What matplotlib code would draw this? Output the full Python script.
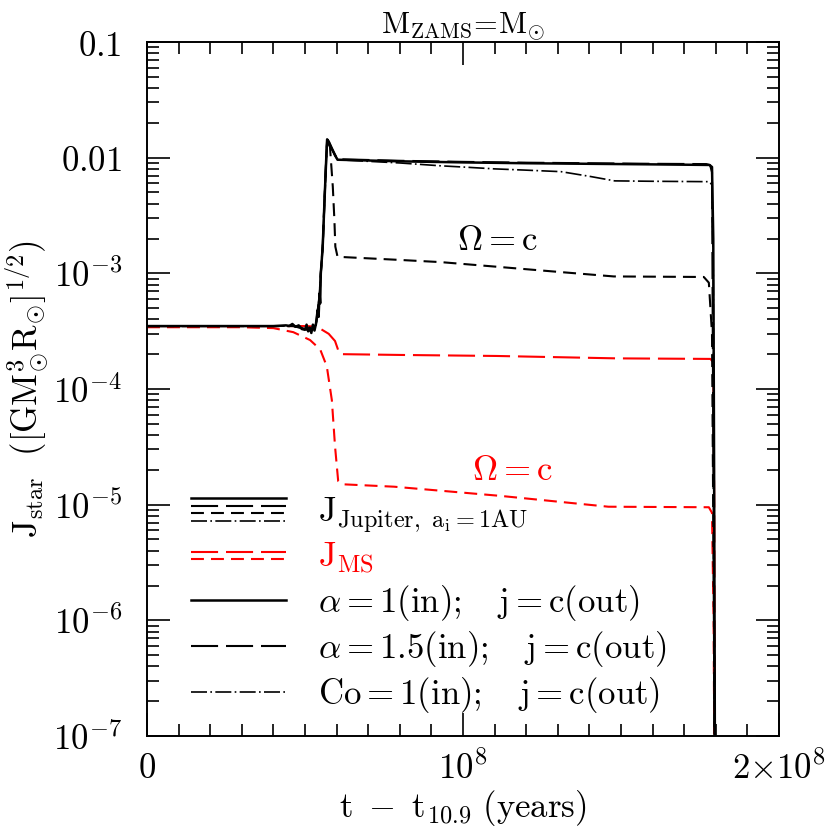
import matplotlib
matplotlib.use('Agg')
import matplotlib.pyplot as plt
from matplotlib.lines import Line2D
from matplotlib.legend_handler import HandlerBase
from matplotlib.ticker import MultipleLocator, NullFormatter

plt.rcParams['mathtext.fontset'] = 'cm'
plt.rcParams['font.family'] = 'serif'
plt.rcParams['font.serif'] = ['DejaVu Serif']

# data set (time in units of 1e7 years)
t_a1 = [0, 1, 2, 3, 4, 4.4, 4.5, 4.6, 4.7, 4.8, 4.9, 5.0, 5.05, 5.1, 5.15,
        5.2, 5.25, 5.3, 5.35, 5.4, 5.43, 5.46, 5.48, 5.5, 5.56, 5.61, 5.67,
        5.70, 5.75, 5.85, 5.95, 6.03, 8, 10, 12, 14, 16, 17.8, 17.88, 17.92,
        17.95, 17.98]
j_a1 = [3.5e-4, 3.5e-4, 3.5e-4, 3.5e-4, 3.5e-4, 3.55e-4, 3.5e-4, 3.65e-4,
        3.45e-4, 3.55e-4, 3.3e-4, 3.25e-4, 3.6e-4, 3.15e-4, 3.4e-4, 3.05e-4,
        3.6e-4, 3.2e-4, 3.7e-4, 4.8e-4, 4.2e-4, 6.7e-4, 5.5e-4, 1.0e-3,
        1.7e-3, 3.8e-3, 9.5e-3, 1.44e-2, 1.38e-2, 1.2e-2, 1.05e-2, 9.6e-3,
        9.3e-3, 9.1e-3, 8.95e-3, 8.85e-3, 8.75e-3, 8.65e-3, 8.3e-3, 2e-3,
        1e-5, 1e-8]

t_a15 = [0, 1, 2, 3, 4, 4.4, 4.6, 4.8, 5.0, 5.2, 5.35, 5.46, 5.5, 5.56,
         5.61, 5.67, 5.70, 5.75, 5.85, 5.95, 6.03, 8, 10, 12, 14, 16, 17.7,
         17.82, 17.88, 17.93, 17.97]
j_a15 = [3.5e-4, 3.5e-4, 3.5e-4, 3.5e-4, 3.5e-4, 3.5e-4, 3.55e-4, 3.4e-4,
         3.3e-4, 3.2e-4, 3.6e-4, 6.5e-4, 1.0e-3, 1.7e-3, 3.8e-3, 9.5e-3,
         1.43e-2, 1.37e-2, 1.2e-2, 1.06e-2, 9.7e-3, 9.4e-3, 9.2e-3, 9.05e-3,
         8.95e-3, 8.85e-3, 8.8e-3, 8.6e-3, 7.5e-3, 1e-5, 1e-8]

t_co = [0, 1, 2, 3, 4, 4.4, 4.6, 4.8, 5.0, 5.2, 5.35, 5.46, 5.5, 5.56,
        5.61, 5.67, 5.70, 5.75, 5.85, 5.95, 6.03, 7, 8, 9.3, 10, 11, 12,
        13.1, 14, 14.8, 16, 17.8, 17.88, 17.92, 17.95, 17.98]
j_co = [3.5e-4, 3.5e-4, 3.5e-4, 3.5e-4, 3.5e-4, 3.5e-4, 3.5e-4, 3.45e-4,
        3.3e-4, 3.2e-4, 3.6e-4, 6.5e-4, 1.0e-3, 1.7e-3, 3.8e-3, 9.5e-3,
        1.42e-2, 1.36e-2, 1.18e-2, 1.04e-2, 9.6e-3, 9.3e-3, 9.0e-3, 8.5e-3,
        8.3e-3, 8.0e-3, 7.8e-3, 7.57e-3, 6.9e-3, 6.3e-3, 6.25e-3, 6.2e-3,
        5.8e-3, 1e-3, 1e-6, 1e-8]

t_om = [0, 1, 2, 3, 4, 4.4, 4.6, 4.8, 5.0, 5.2, 5.35, 5.46, 5.5, 5.56,
        5.61, 5.67, 5.70, 5.75, 5.79, 5.88, 5.93, 5.96, 6.03, 7.9, 9.3,
        11.07, 13, 14.77, 17.62, 17.78, 17.88, 17.94, 17.97]
j_om = [3.5e-4, 3.5e-4, 3.5e-4, 3.5e-4, 3.5e-4, 3.5e-4, 3.5e-4, 3.45e-4,
        3.3e-4, 3.2e-4, 3.6e-4, 6.5e-4, 1.0e-3, 1.7e-3, 3.8e-3, 9.5e-3,
        1.4e-2, 1.3e-2, 1.24e-2, 5.6e-3, 2.9e-3, 1.7e-3, 1.39e-3, 1.31e-3,
        1.25e-3, 1.14e-3, 1.03e-3, 9.4e-4, 9.3e-4, 8.3e-4, 3e-4, 1e-6, 1e-8]

t_ms = [0, 1, 2, 3, 4, 5, 5.2, 5.5, 5.75, 5.95, 6.03, 6.08, 6.2, 8, 11.07,
        14.87, 17.83, 17.92, 17.95, 17.98]
j_ms = [3.5e-4, 3.5e-4, 3.5e-4, 3.5e-4, 3.5e-4, 3.5e-4, 3.48e-4, 3.3e-4,
        3.0e-4, 2.6e-4, 2.25e-4, 2.03e-4, 2.0e-4, 1.97e-4, 1.93e-4, 1.84e-4,
        1.82e-4, 1.7e-4, 1e-5, 1e-8]

t_ms_om = [0, 1, 2, 3, 4.0, 4.63, 5.16, 5.48, 5.69, 5.85, 5.95, 6.05, 6.2,
           7.82, 11.2, 14.6, 17.78, 17.88, 17.93, 17.97]
j_ms_om = [3.42e-4, 3.42e-4, 3.42e-4, 3.42e-4, 3.36e-4, 3.1e-4, 2.65e-4,
           2.2e-4, 1.57e-4, 8e-5, 3.2e-5, 1.6e-5, 1.5e-5, 1.43e-5, 1.19e-5,
           9.6e-6, 9.5e-6, 8.5e-6, 1e-6, 1e-8]

long_dash = (0, (13, 3.8))
short_dash = (0, (6.2, 3.4))
dash_dot = (0, (9.6, 2, 1, 2))


def yrs(t):
    return [v * 1e7 for v in t]


class StackHandler(HandlerBase):
    # draws several line styles stacked in one legend row
    def create_artists(self, legend, orig_handle, xdescent, ydescent,
                       width, height, fontsize, trans):
        n = len(orig_handle)
        gap = 5.4
        yc = (height - ydescent) / 2
        out = []
        for i, src in enumerate(orig_handle):
            y = yc + ((n - 1) / 2 - i) * gap
            ln = Line2D([-xdescent, -xdescent + width], [y, y])
            self.update_prop(ln, src, legend)
            ln.set_transform(trans)
            out.append(ln)
        return out


fig = plt.figure(figsize=(8.3, 8.33), dpi=100)
ax = fig.add_axes([147 / 830, 1 - 736 / 833, 632 / 830, 694 / 833])

l_ms, = ax.plot(yrs(t_ms), j_ms, color='red', lw=1.5, ls=long_dash)
l_ms_om, = ax.plot(yrs(t_ms_om), j_ms_om, color='red', lw=1.5, ls=short_dash)
l_om, = ax.plot(yrs(t_om), j_om, color='black', lw=1.5, ls=short_dash)
l_co, = ax.plot(yrs(t_co), j_co, color='black', lw=1.2, ls=dash_dot)
l_a15, = ax.plot(yrs(t_a15), j_a15, color='black', lw=1.5, ls=long_dash)
l_a1, = ax.plot(yrs(t_a1), j_a1, color='black', lw=1.8)

ax.text(1.108e8, 1.95e-3, r'$\Omega\mathrm{=c}$', fontsize=25,
        ha='center', va='center')
ax.text(1.156e8, 2.0e-5, r'$\Omega\mathrm{=c}$', fontsize=25,
        ha='center', va='center', color='red')

ax.set_yscale('log')
ax.set_xlim(0, 2e8)
ax.set_ylim(1e-7, 0.1)

ax.set_xticks([0, 1e8, 2e8])
ax.set_xticklabels([r'$\mathrm{0}$', r'$\mathrm{10^{8}}$',
                    r'$\mathrm{2{\times}10^{8}}$'])
ax.xaxis.set_minor_locator(MultipleLocator(1e7))
ax.set_yticks([1e-7, 1e-6, 1e-5, 1e-4, 1e-3, 1e-2, 1e-1])
ax.set_yticklabels([r'$\mathrm{10^{-7}}$', r'$\mathrm{10^{-6}}$',
                    r'$\mathrm{10^{-5}}$', r'$\mathrm{10^{-4}}$',
                    r'$\mathrm{10^{-3}}$', r'$\mathrm{0.01}$',
                    r'$\mathrm{0.1}$'])
ax.yaxis.set_minor_formatter(NullFormatter())

ax.tick_params(which='both', direction='in', top=True, right=True,
               width=1.2, labelsize=25)
ax.tick_params(which='major', length=16.5)
ax.tick_params(which='minor', length=8.5)
ax.tick_params(axis='y', pad=18)
ax.tick_params(axis='x', pad=11)
for s in ax.spines.values():
    s.set_linewidth(1.4)

ax.set_xlabel(r'$\mathrm{t\ -\ t_{10.9}\ (years)}$', fontsize=25)
ax.xaxis.set_label_coords(0.5, -0.075)
ax.set_ylabel(r'$\mathrm{J_{star}\ \ ([GM_{\odot}^{3}R_{\odot}]^{1/2})}$',
              fontsize=25)
ax.yaxis.set_label_coords(-0.15, 0.5)
ax.set_title(r'$\mathrm{M_{ZAMS}}\!=\!\mathrm{M_{\odot}}$', fontsize=22, pad=4)

handles = [(l_a1, l_a15, l_om, l_co), (l_ms, l_ms_om), l_a1, l_a15, l_co]
labels = [r'$\mathrm{J_{Jupiter,\ a_i=1AU}}$', r'$\mathrm{J_{MS}}$',
          r'$\alpha\mathrm{=1(in);\quad j=c(out)}$',
          r'$\alpha\mathrm{=1.5(in);\quad j=c(out)}$',
          r'$\mathrm{Co=1(in);\quad j=c(out)}$']
leg = ax.legend(handles, labels, handler_map={tuple: StackHandler()},
                loc='lower left', bbox_to_anchor=(0.07, 0.03),
                borderaxespad=0, borderpad=0, frameon=False, fontsize=25,
                handlelength=2.74, handletextpad=0.9, labelspacing=0.18)
leg.get_texts()[1].set_color('red')

plt.savefig('out.png', dpi=100)
